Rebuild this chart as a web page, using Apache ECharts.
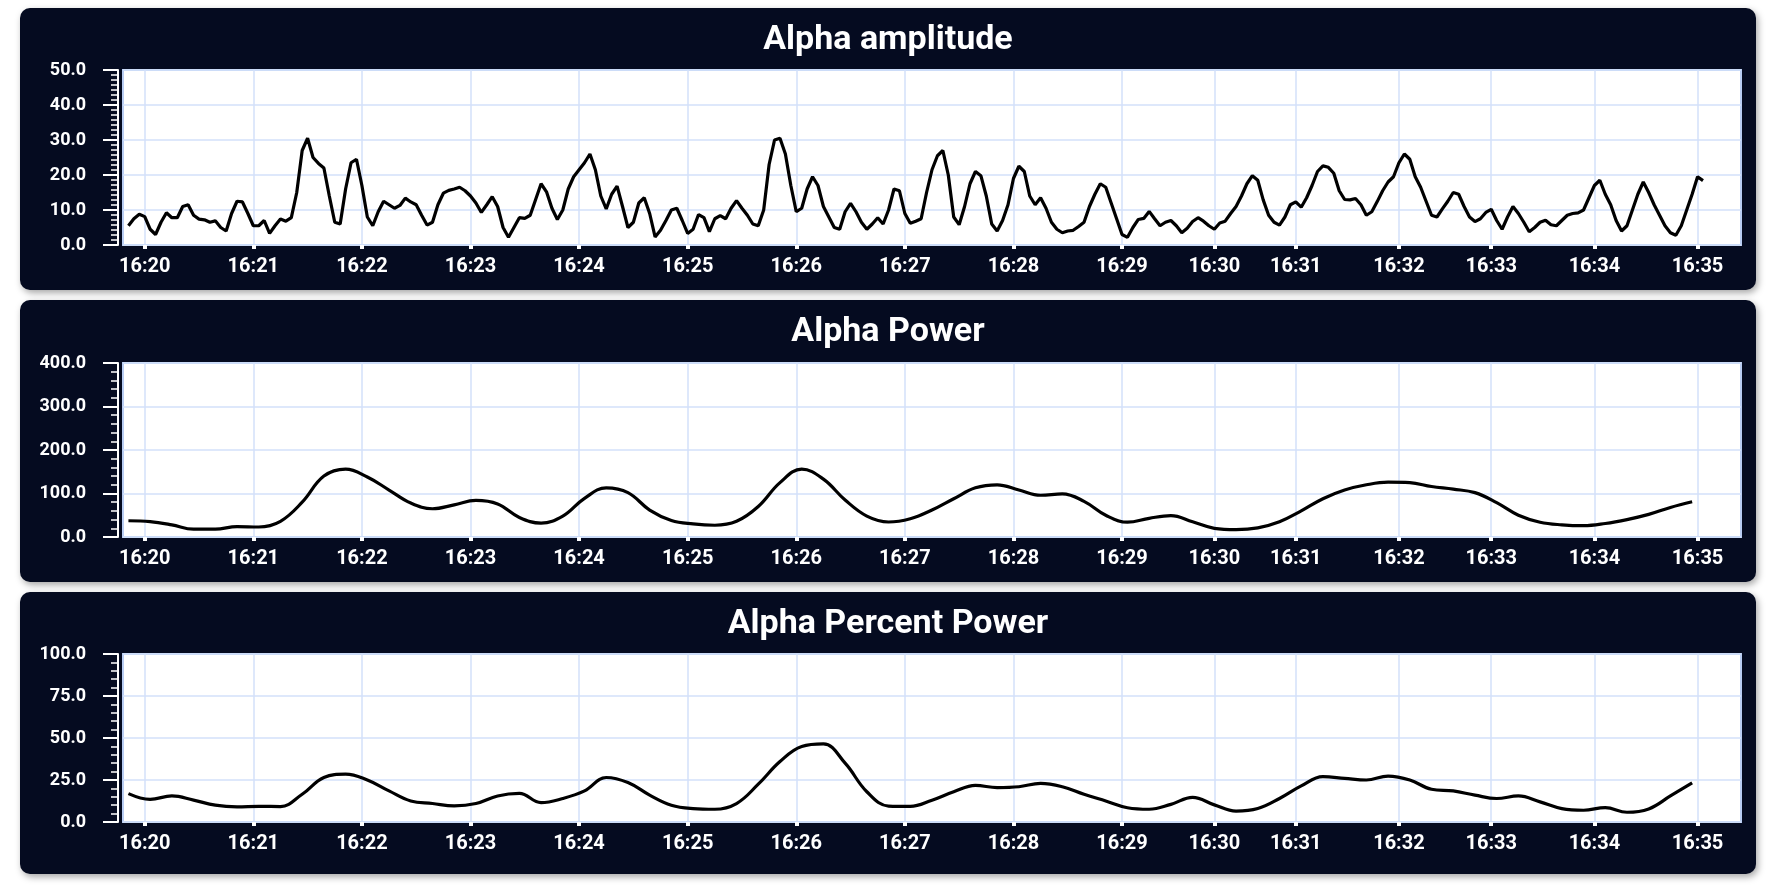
<!DOCTYPE html>
<html><head><meta charset="utf-8">
<script src="https://cdn.jsdelivr.net/npm/echarts@6/dist/echarts.min.js"></script>
<style>
html,body{margin:0;padding:0;background:#fff;width:1774px;height:887px;overflow:hidden;}
.panel{position:absolute;left:20px;width:1736px;height:282px;background:#050b20;border-radius:10px;box-shadow:2px 3px 7px rgba(0,0,0,0.35);}
</style></head><body>
<div id="p1" class="panel" style="top:8px"></div>
<div id="p2" class="panel" style="top:300px"></div>
<div id="p3" class="panel" style="top:592px"></div>
<script>
// ---- sampling of the recording (time axis categories) ----
const sampleMinutes = ['16:19','16:20','16:21','16:22','16:23','16:24','16:25','16:26','16:27','16:28','16:29','16:30','16:31','16:32','16:33','16:34','16:35'];
const samplesPerMinute = [20,20,20,20,20,20,20,20,20,20,17,15,19,17,19,19,20];
const skippedFirstSamples = 16;
const totalSamples = 299;
const tickLabels = ['16:20','16:21','16:22','16:23','16:24','16:25','16:26','16:27','16:28','16:29','16:30','16:31','16:32','16:33','16:34','16:35'];

// ---- series values ----
const amplitudeValues = [null,
 5.5,7.5,8.8,8.1,4.5,3.0,6.5,9.2,7.8,7.8,
 11,11.5,8.5,7.4,7.2,6.5,6.9,5.0,4.0,9.0,
 12.5,12.3,9.0,5.5,5.5,7.0,3.3,5.5,7.4,6.8,
 7.8,15,27,30.5,25,23.3,22,14,6.5,6.0,
 16,23.5,24.5,17,8,5.5,9.5,12.5,11.5,10.5,
 11.3,13.4,12.3,11.5,8.5,5.7,6.5,11.5,14.8,15.6,
 16.0,16.5,15.5,14.0,12.0,9.3,11.5,13.8,11.0,5.0,
 2.2,5.0,7.8,7.6,8.5,13,17.5,15.2,10.5,7.3,
 10,16,19.5,21.5,23.5,26.0,21.5,14,10.3,14.5,
 16.8,11,5,6.5,12,13.5,9,2.3,4.2,7,
 10,10.5,7,3.3,4.5,8.7,7.8,3.8,7.5,8.4,
 7.5,10.5,12.7,10.5,8.5,6,5.5,10,23,30,
 30.5,26,17,9.5,10.5,16,19.5,17,11,8,
 5,4.5,9.5,11.9,9.5,6.5,4.5,6,7.8,6,
 10,16,15.5,9,6.2,6.8,7.5,15,21.5,25.5,
 27,20,8,5.8,11,17.5,21,19.8,14,6,
 4,7,11.5,19,22.5,21,14,11.5,13.5,10.5,
 6.5,4.5,3.5,4.0,4.2,5.3,6.5,11,14.5,17.5,
 16.5,12,7.5,3,2.2,5,7.3,7.6,9.6,7.5,
 5.5,6.5,7,5.5,3.5,4.8,6.7,7.8,6.8,5.5,
 4.5,6.3,6.8,9,11,14,17.5,19.8,18.5,12.9,
 8.5,6.5,5.7,8,11.5,12.3,10.8,13.5,17,21,
 22.6,22.2,20.5,15.5,13,12.9,13.3,11.5,8.5,9.5,
 12.4,15.5,18,19.5,23.5,26,24.5,19.5,16.5,12.5,
 8.5,8,10.3,12.5,15,14.5,11,8,6.7,7.5,
 9.3,10.2,7,4.5,8,11,9,6.5,3.8,5,
 6.5,7.1,5.8,5.5,7,8.5,9,9.2,10,13.5,
 17,18.5,14.5,11.5,7,4,5.5,10,14.5,18,
 15,11.5,8.5,5.5,3.5,2.8,5.5,10,14.5,19.5,18.4];

// power & percent power are reported every 4th sample, starting at sample 1
const bandFirstSample = 1;
const bandStep = 4;
const powerValues = [37.4,35.5,28,18,18,24,23,36,80,140,156,138,108,78,65,74,84,76,45,32,
 48,89,113,102,62,38,30,27,36,70,125,156,133,85,48,34.5,42,62,88,113,
 120,108,96,99,82,50,34,43,49,35,20,17,21,35,60,88,108,120,126,125,
 116,110,102,79,50,34,28,26,31,40,52,68,81];
const percentValues = [16.9,13.5,15.5,13,10,9,9.3,9.2,16.5,26.5,28.5,25,18.5,12.5,11,9.6,11,15.5,17,11.5,
 14,18.5,26.5,23.5,16,10,8,7.6,11,22.5,36,45,46.5,35,18,9.5,9.3,13,18,21.8,
 20.5,21,23,21,16.5,12.5,8.5,7.6,10.5,14.7,10.2,6.5,8,14,21.5,27,26,25,27.3,25,
 19.5,18.5,16,14,15.5,12,8,7,8.6,5.8,7.8,15.5,23.3];

// ---- build categories ----
const allTimes = [];
sampleMinutes.forEach((m, mi) => {
  const n = samplesPerMinute[mi];
  for (let k = 0; k < n; k++) {
    const s = Math.round(k * 60 / n);
    allTimes.push(m + ':' + String(s).padStart(2, '0'));
  }
});
const categories = allTimes.slice(skippedFirstSamples, skippedFirstSamples + totalSamples);
const tickSet = new Set(tickLabels.map(t => t + ':00'));
const isTick = (i, v) => tickSet.has(v === undefined ? categories[i] : v);

const bandPairs = vals => vals.map((v, k) => [categories[bandFirstSample + k * bandStep], v]);

const FONT = 'Roboto, "Noto Sans", sans-serif';
function makeOption(title, yMax, yInterval, minorSplit, data, smooth, gridTop, gridBottom) {
  return {
    backgroundColor: 'transparent',
    animation: false,
    title: { text: title, left: 'center', top: 10,
      textStyle: { color: '#ffffff', fontSize: 34, fontWeight: 'bold', fontFamily: FONT } },
    grid: { left: 103, right: 15, top: gridTop, bottom: gridBottom, show: true,
      backgroundColor: '#ffffff', borderColor: '#b9cdf3', borderWidth: 2 },
    xAxis: {
      type: 'category', data: categories, boundaryGap: false,
      axisLine: { show: false }, offset: 2,
      axisTick: { show: true, interval: isTick, length: 4, lineStyle: { color: '#ffffff', width: 4 } },
      axisLabel: { interval: isTick, formatter: v => v.slice(0, 5), color: '#ffffff',
        fontSize: 20, fontWeight: 'bold', fontFamily: FONT, margin: 10 },
      splitLine: { show: true, interval: isTick, lineStyle: { color: '#d3e0fa', width: 1.5 } }
    },
    yAxis: {
      type: 'value', min: 0, max: yMax, interval: yInterval, offset: 5,
      axisLine: { show: true, lineStyle: { color: '#ffffff', width: 2 } },
      axisTick: { show: true, length: 15, lineStyle: { color: '#ffffff', width: 2 } },
      minorTick: { show: true, splitNumber: minorSplit, length: 7, lineStyle: { color: '#ffffff', width: 1.5 } },
      axisLabel: { formatter: v => v.toFixed(1), color: '#ffffff', fontSize: 18,
        fontWeight: 'bold', fontFamily: FONT, margin: 32 },
      splitLine: { show: true, lineStyle: { color: '#d3e0fa', width: 1.5 } }
    },
    series: [{ type: 'line', data: data, showSymbol: false, smooth: smooth,
      lineStyle: { color: '#000000', width: 3.2 } }]
  };
}

echarts.init(document.getElementById('p1')).setOption(
  makeOption('Alpha amplitude', 50, 10, 7, amplitudeValues, false, 62, 45));
echarts.init(document.getElementById('p2')).setOption(
  makeOption('Alpha Power', 400, 100, 5, bandPairs(powerValues), 0.4, 63, 45));
echarts.init(document.getElementById('p3')).setOption(
  makeOption('Alpha Percent Power', 100, 25, 5, bandPairs(percentValues), 0.4, 62, 52));
</script>
</body></html>
